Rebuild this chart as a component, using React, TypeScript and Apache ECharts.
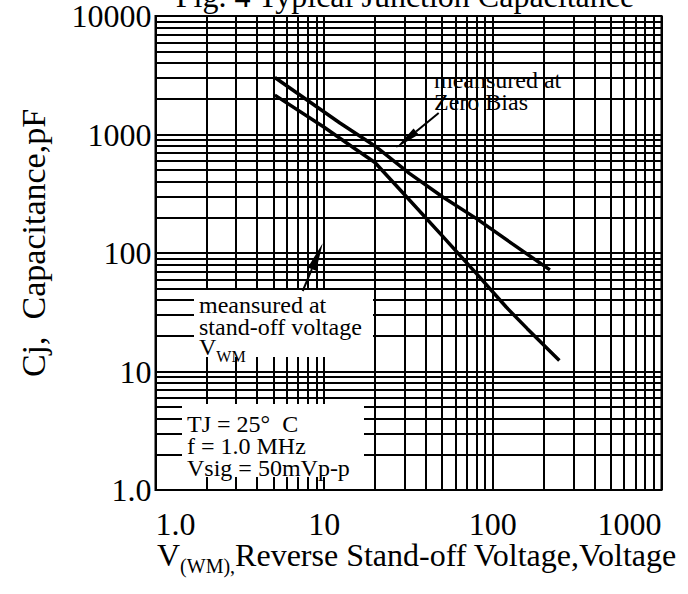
import React, { useEffect, useRef } from "react";
import * as echarts from "echarts";

const FONT = "'Liberation Serif', 'Times New Roman', Times, serif";

// Axis ranges and tick values
const xRange = [1, 1000];
const yRange = [1, 10000];
const xMinorTicks = [2, 3, 4, 5, 6, 7, 8, 9, 20, 30, 40, 50, 60, 70, 80, 90, 200, 300, 400, 500, 600, 700, 800, 900];
const yMinorTicks = [
  2, 3, 4, 5, 6, 7, 8, 9, 20, 30, 40, 50, 60, 70, 80, 90, 200, 300, 400, 500, 600, 700, 800, 900,
  2000, 3000, 4000, 5000, 6000, 7000, 8000, 9000,
];

// Curve: measured at zero bias
const zeroBiasV = [5.1, 12.4, 20, 32, 50, 80, 130, 218];
const zeroBiasC = [3030, 1250, 800, 470, 300, 195, 120, 72];

// Curve: measured at stand-off voltage
const standoffV = [5.1, 10, 15, 20, 30, 50, 80, 120, 160, 248];
const standoffC = [2150, 1150, 770, 580, 310, 140, 67, 35, 23, 12.4];

const fmtTick = (v: number) => {
  const r = Math.round(v);
  return r === 1 ? "1.0" : String(r);
};

function measure(text: string, size: number) {
  const c = document.createElement("canvas").getContext("2d");
  if (!c) return text.length * size * 0.5;
  c.font = `${size}px ${FONT}`;
  return c.measureText(text).width;
}

function txt(text: string, x: number, baseline: number, size: number, align = "left"): any {
  return {
    type: "text",
    x,
    y: baseline - 0.34 * size,
    z: 120,
    style: {
      text,
      fontSize: size,
      fontFamily: FONT,
      fill: "#000",
      align,
      textAlign: align,
      verticalAlign: "middle",
      textVerticalAlign: "middle",
    },
  };
}

function arrow(x1: number, y1: number, x2: number, y2: number, L: number, W: number): any[] {
  const dx = x2 - x1;
  const dy = y2 - y1;
  const len = Math.hypot(dx, dy);
  const ux = dx / len;
  const uy = dy / len;
  const bx = x2 - ux * L;
  const by = y2 - uy * L;
  const nx = -uy;
  const ny = ux;
  return [
    { type: "line", z: 115, shape: { x1, y1, x2: bx, y2: by }, style: { stroke: "#000", lineWidth: 2 } },
    {
      type: "polygon",
      z: 115,
      shape: { points: [[x2, y2], [bx + nx * W, by + ny * W], [bx - nx * W, by - ny * W]] },
      style: { fill: "#000" },
    },
  ];
}

export default function App() {
  const ref = useRef<HTMLDivElement>(null);

  useEffect(() => {
    if (!ref.current) return;
    const chart = echarts.init(ref.current, undefined, { renderer: "svg" });

    const gridStyle = { color: "#000", width: 2, type: "solid" as const };

    // x-axis title pieces
    const xl0 = 157;
    const xlBase = 566;
    const wV = measure("V", 32);
    const wSub = measure("(WM),", 20);

    const graphics: any[] = [
      // title (cut at the top)
      txt("Fig. 4 Typical Junction Capacitance", 405, 7, 32, "center"),
      // y axis title
      {
        type: "text",
        x: 33,
        y: 243,
        rotation: Math.PI / 2,
        z: 120,
        style: {
          text: "Cj,  Capacitance,pF",
          fontSize: 34,
          fontFamily: FONT,
          fill: "#000",
          align: "center",
          textAlign: "center",
          verticalAlign: "middle",
          textVerticalAlign: "middle",
        },
      },
      // x axis title
      txt("V", xl0, xlBase, 32),
      txt("(WM),", xl0 + wV, xlBase + 7, 20),
      txt("Reverse Stand-off Voltage,Voltage", xl0 + wV + wSub, xlBase, 32),
      // white boxes
      { type: "rect", z: 100, shape: { x: 194, y: 290, width: 179, height: 67 }, style: { fill: "#fff" } },
      { type: "rect", z: 100, shape: { x: 182, y: 404, width: 182, height: 73 }, style: { fill: "#fff" } },
      // box 1 text
      txt("meansured at", 199, 312.7, 24),
      txt("stand-off voltage", 199, 334.7, 24),
      txt("V", 199, 355, 24),
      txt("WM", 199 + measure("V", 24), 362, 16),
      // box 2 text
      txt("TJ = 25°  C", 187, 432.5, 24),
      txt("f = 1.0 MHz", 187, 454.5, 24),
      txt("Vsig = 50mVp-p", 187, 475.8, 24),
      // zero bias text
      txt("meansured at", 434, 88.4, 24),
      txt("Zero Bias", 434, 109.7, 24),
      ...arrow(438.7, 113, 396, 148, 26, 4),
      ...arrow(302.7, 291, 322.7, 243.3, 28, 4.5),
    ];

    chart.setOption({
      animation: false,
      backgroundColor: "#fff",
      grid: {
        left: 155.5,
        right: 26.5,
        top: 12,
        bottom: 104,
        show: true,
        borderColor: "#000",
        borderWidth: 2,
      },
      xAxis: {
        type: "log",
        logBase: 10,
        min: xRange[0],
        max: xRange[1],
        axisLine: { show: false },
        axisTick: { show: false },
        splitLine: { show: true, lineStyle: gridStyle },
        axisLabel: {
          color: "#000",
          fontFamily: FONT,
          fontSize: 32,
          margin: 18,
          alignMinLabel: "left",
          alignMaxLabel: "right",
          formatter: fmtTick,
        },
      },
      yAxis: {
        type: "log",
        logBase: 10,
        min: yRange[0],
        max: yRange[1],
        axisLine: { show: false },
        axisTick: { show: false },
        splitLine: { show: true, lineStyle: gridStyle },
        axisLabel: {
          color: "#000",
          fontFamily: FONT,
          fontSize: 32,
          margin: 4,
          formatter: fmtTick,
        },
      },
      series: [
        {
          type: "line",
          name: "grid",
          z: 1,
          data: [],
          silent: true,
          markLine: {
            silent: true,
            symbol: ["none", "none"],
            label: { show: false },
            lineStyle: gridStyle,
            emphasis: { disabled: true },
            data: [
              ...xMinorTicks.map((v) => ({ xAxis: v })),
              ...yMinorTicks.map((v) => ({ yAxis: v })),
            ],
          },
        },
        {
          type: "line",
          name: "Zero Bias",
          z: 5,
          showSymbol: false,
          symbol: "none",
          lineStyle: { color: "#000", width: 3.5 },
          data: zeroBiasV.map((v, i) => [v, zeroBiasC[i]]),
        },
        {
          type: "line",
          name: "Stand-off",
          z: 5,
          showSymbol: false,
          symbol: "none",
          lineStyle: { color: "#000", width: 3.5 },
          data: standoffV.map((v, i) => [v, standoffC[i]]),
        },
      ],
      graphic: graphics,
    });

    return () => chart.dispose();
  }, []);

  return (
    <div
      ref={ref}
      style={{ position: "fixed", left: 0, top: 0, width: 688, height: 594, background: "#fff" }}
    />
  );
}
